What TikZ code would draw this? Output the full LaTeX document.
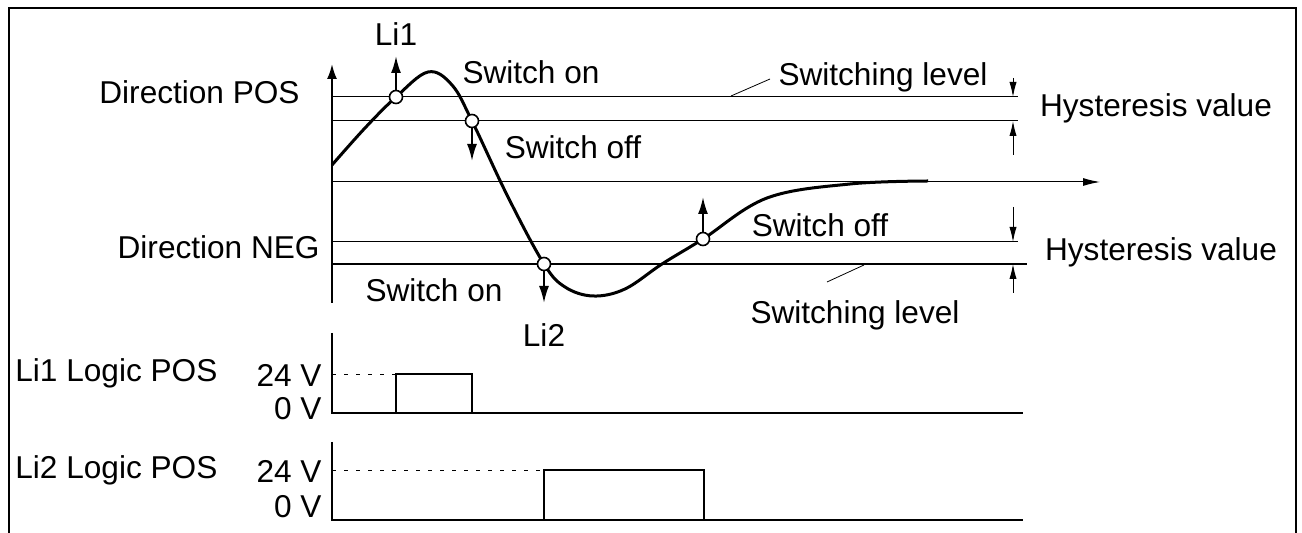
\documentclass[tikz,border=0pt]{standalone}
\usepackage{fontspec}
\setmainfont{Liberation Sans}
\usetikzlibrary{arrows.meta,positioning}

\begin{document}
\begin{tikzpicture}[x=0.5pt,y=-0.5pt,font=\fontsize{15.8pt}{19pt}\selectfont,
    lbl/.style={inner sep=0pt},
    lvl/.style={line width=0.5pt},
    sig/.style={line width=1pt,-{Latex[length=8.5pt,width=5pt]}},
    hyst/.style={line width=0.5pt,-{Latex[length=7.5pt,width=3.6pt]}},
    hit/.style={circle,draw,line width=0.8pt,fill=white,inner sep=0pt,minimum size=6.5pt},
    lead/.style={line width=0.4pt},
    rail/.style={line width=1.1pt},
    guide/.style={line width=0.4pt,dash pattern=on 2pt off 4pt}]
  \useasboundingbox (0,0) rectangle (1302,533);
  \draw[line width=1pt] (9,533) -- (9,8) -- (1296,8) -- (1296,533);

  % signal plot
  \draw[line width=1pt,-{Latex[length=7.5pt,width=5pt]}] (332,303) -- (332,64);
  \draw[line width=0.5pt,-{Latex[length=8.5pt,width=4pt]}] (332,182) -- (1100,182);
  \draw[lvl] (332,97) -- (1018,97);
  \draw[lvl] (332,121) -- (1018,121);
  \draw[lvl] (332,242) -- (1018,242);
  \draw[line width=1.2pt] (332,264) -- (1027,264);
  \draw[line width=1.5pt] plot[smooth,tension=0.6] coordinates {(332,165) (365,128) (396,97) (428,72) (452,85) (472,121) (508,197) (544,264) (565,287) (593,296) (625,289) (662,264) (703,239) (767,198) (850,184) (928,181)};

  \node[hit] (on1) at (396,97) {};
  \node[hit] (off1) at (472,121) {};
  \node[hit] (on2) at (544,264) {};
  \node[hit] (off2) at (703,239) {};
  \coordinate (t1) at (396,56);
  \coordinate (t2) at (472,161);
  \coordinate (t3) at (544,303);
  \coordinate (t4) at (703,197);
  \draw[sig] (on1) -- (t1);
  \draw[sig] (off1) -- (t2);
  \draw[sig] (on2) -- (t3);
  \draw[sig] (off2) -- (t4);

  % hysteresis marks
  \draw[hyst] (1013,78) -- (1013,97);
  \draw[hyst] (1013,155) -- (1013,121);
  \draw[hyst] (1013,207) -- (1013,242);
  \draw[hyst] (1013,293) -- (1013,264);
  \draw[lead] (731,96) -- (770,79);
  \draw[lead] (827,282) -- (864,265);

  \node[lbl,above=5pt of t1] (li1) {Li1};
  \node[lbl,below=10pt of t3] (li2) {Li2};
  \node[lbl,anchor=east] (dpos) at (300,92) {Direction POS};
  \node[lbl,anchor=east] (dneg) at (320,247) {Direction NEG};
  \node[lbl] (son1) at (531,72) {Switch on};
  \node[lbl] (soff1) at (573,147) {Switch off};
  \node[lbl] (lev1) at (883,77) {Switching level};
  \node[lbl] (hv1) at (1156,108) {Hysteresis value};
  \node[lbl] (son2) at (434,290) {Switch on};
  \node[lbl] (soff2) at (820,225) {Switch off};
  \node[lbl] (lev2) at (855,315) {Switching level};
  \node[lbl] (hv2) at (1161,252) {Hysteresis value};

  % logic outputs
  \draw[rail] (332,333) -- (332,413) -- (1023,413);
  \draw[guide] (332,374) -- (396,374);
  \draw[line width=0.6pt] (396,413) -- (396,374) -- (472,374) -- (472,413);
  \draw[rail] (332,442) -- (332,520) -- (1023,520);
  \draw[guide] (332,470) -- (544,470);
  \draw[line width=0.6pt] (544,520) -- (544,470) -- (704,470) -- (704,520);

  \node[lbl,anchor=west] (lp1) at (15,373) {Li1 Logic POS};
  \node[lbl,anchor=east] (hi1) at (322,375) {24 V};
  \node[lbl,anchor=east] (lo1) at (322,409) {0 V};
  \node[lbl,anchor=west] (lp2) at (15,470) {Li2 Logic POS};
  \node[lbl,anchor=east] (hi2) at (322,471) {24 V};
  \node[lbl,anchor=east] (lo2) at (322,507) {0 V};
\end{tikzpicture}
\end{document}
